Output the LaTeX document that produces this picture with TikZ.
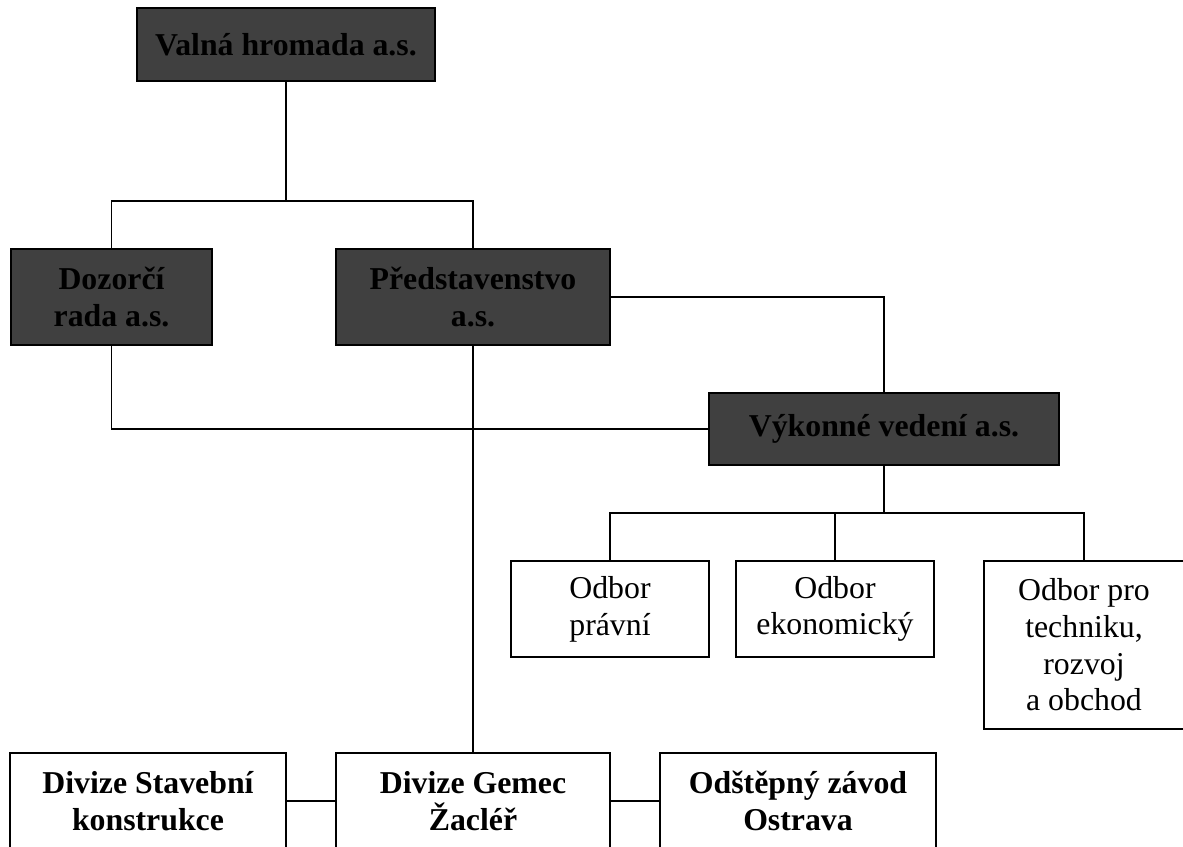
\documentclass[tikz,border=0pt]{standalone}
\usepackage{fontspec}
\setmainfont{Liberation Serif}
\usepackage{tikz}
\usetikzlibrary{positioning, calc}
\definecolor{boardfill}{HTML}{404040}
\colorlet{boardline}{black}
\tikzset{
  orgbox/.style={draw=boardline, line width=2pt, inner sep=0pt, align=center,
    font=\fontsize{31.8}{36.7}\selectfont},
  darkbox/.style={orgbox, fill=boardfill, font=\fontsize{31.8}{36.7}\selectfont\bfseries},
  unitbox/.style={orgbox, fill=white, font=\fontsize{31.8}{36.7}\selectfont\bfseries},
  deptbox/.style={orgbox, fill=white},
  link/.style={draw=black, line width=1.6pt}
}

\begin{document}
\begin{tikzpicture}[x=1pt, y=-1pt]
    \useasboundingbox (0,0) rectangle (1183,846);

    % Orgány společnosti
    \node[darkbox, minimum width=298pt, minimum height=73pt] (valna) at (286,44.5) {Valná hromada a.s.};
    \node[darkbox, minimum width=201pt, minimum height=96pt] (dozorci) at (111.5,297) {Dozorčí\\rada a.s.};
    \node[darkbox, minimum width=274pt, minimum height=96pt] (predst) at (473,297) {Představenstvo\\a.s.};
    \node[darkbox, minimum width=350pt, minimum height=72pt] (vykonne) at (884,429) {Výkonné vedení a.s.};

    % Odbory
    \node[deptbox, minimum width=198pt, minimum height=96pt] (pravni) at (610,609) {Odbor\\právní};
    \node[deptbox, minimum width=198pt, minimum height=96pt] (ekon) at (835,609) {Odbor\\ekonomický};
    \node[deptbox, minimum width=200pt, minimum height=168pt] (techn) at (1084,645) {Odbor pro\\techniku,\\rozvoj\\a obchod};

    % Divize a závod
    \node[unitbox, minimum width=276pt, minimum height=96pt] (stavebni) at (148,801) {Divize Stavební\\konstrukce};
    \node[unitbox, minimum width=274pt, minimum height=96pt] (gemec) at (473,801) {Divize Gemec\\Žacléř};
    \node[unitbox, minimum width=276pt, minimum height=96pt] (ostrava) at (798,801) {Odštěpný závod\\Ostrava};

    % Spojnice
    \coordinate (topbus) at (286,201);
    \coordinate (deptbus) at (884,513);
    \draw[link] (valna.south) -- (topbus);
    \draw[link] (dozorci.north) |- (topbus) -| (predst.north);
    \draw[link] (predst.east) -| (vykonne.north);
    \draw[link] (dozorci.south) |- (vykonne.west);
    \draw[link] (predst.south) -- (gemec.north);
    \draw[link] (vykonne.south) -- (deptbus);
    \draw[link] (pravni.north) |- (deptbus) -| (techn.north);
    \draw[link] (ekon.north) -- (ekon.north |- deptbus);
    \draw[link] (stavebni.east) -- (gemec.west);
    \draw[link] (gemec.east) -- (ostrava.west);
  \end{tikzpicture}
\end{document}
